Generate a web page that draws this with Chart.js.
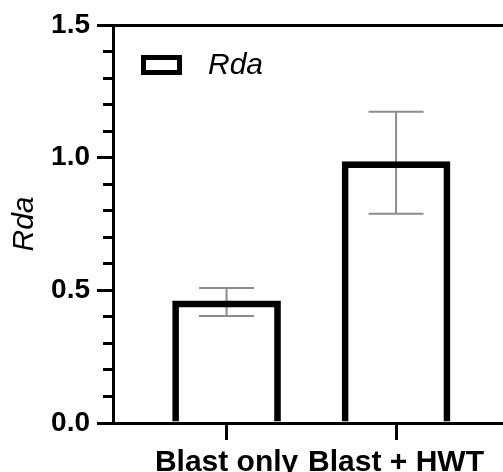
<!DOCTYPE html>
<html>
<head>
<meta charset="utf-8">
<script src="https://cdn.jsdelivr.net/npm/chart.js@4/dist/chart.umd.min.js"></script>
<style>
  html, body { margin: 0; padding: 0; background: #fff; }
  canvas { display: block; }
</style>
</head>
<body>
<canvas id="rdaChart" width="503" height="472"></canvas>
<script>
// Rda expression, mean with error range
const categories = ['Blast only', 'Blast + HWT'];
const rdaMeans = [0.46, 0.985];
const errLow = [0.403, 0.789];
const errHigh = [0.509, 1.173];
const yMajorTicks = [0, 0.5, 1.0, 1.5];
const yAllTicks = [0, 0.1, 0.2, 0.3, 0.4, 0.5, 0.6, 0.7, 0.8, 0.9, 1.0, 1.1, 1.2, 1.3, 1.4, 1.5];

const FONT = '"Liberation Sans", Arial, Helvetica, sans-serif';

function isMajor(v) {
    return yMajorTicks.some(t => Math.abs(t - v) < 1e-6);
}

// error bars drawn under the bar outlines
const errorBars = {
    id: 'errorBars',
    beforeDatasetsDraw(chart) {
        const { ctx, scales: { x, y } } = chart;
        ctx.save();
        ctx.strokeStyle = '#8c8c8c';
        ctx.lineWidth = 2;
        categories.forEach((c, i) => {
            const px = x.getPixelForValue(i + 1);
            const top = y.getPixelForValue(errHigh[i]);
            const bot = y.getPixelForValue(errLow[i]);
            ctx.beginPath();
            ctx.moveTo(px, top);
            ctx.lineTo(px, bot);
            ctx.moveTo(px - 27.5, top);
            ctx.lineTo(px + 27.5, top);
            ctx.moveTo(px - 27.5, bot);
            ctx.lineTo(px + 27.5, bot);
            ctx.stroke();
        });
        ctx.restore();
    }
};

// legend box + italic label, top left inside the plot
const insideLegend = {
    id: 'insideLegend',
    afterDraw(chart) {
        const { ctx, chartArea } = chart;
        const ds = chart.data.datasets[0];
        const bx = chartArea.left + 30.5;
        const by = chartArea.top + 32.5;
        ctx.save();
        ctx.strokeStyle = ds.borderColor;
        ctx.lineWidth = 5;
        ctx.strokeRect(bx, by, 36, 15);
        ctx.fillStyle = '#000';
        ctx.font = 'italic 30px ' + FONT;
        ctx.textBaseline = 'middle';
        ctx.fillText(ds.label, chartArea.left + 95, by + 8);
        ctx.restore();
    }
};

const ctx = document.getElementById('rdaChart').getContext('2d');
new Chart(ctx, {
    type: 'bar',
    data: {
        datasets: [{
            label: 'Rda',
            data: rdaMeans.map((v, i) => ({ x: i + 1, y: v })),
            backgroundColor: 'rgba(0,0,0,0)',
            borderColor: '#000',
            borderWidth: 6,
            borderSkipped: 'start',
            barThickness: 108
        }]
    },
    options: {
        responsive: false,
        animation: false,
        layout: { padding: { top: 25, left: 0, right: 0, bottom: 0 } },
        plugins: {
            tooltip: { enabled: false },
            legend: { display: false }
        },
        scales: {
            x: {
                type: 'linear',
                offset: false,
                min: 0.33,
                max: 2.631,
                afterBuildTicks: scale => {
                    scale.ticks = categories.map((c, i) => ({ value: i + 1 }));
                },
                afterFit: scale => { scale.height = 49; },
                border: { display: true, color: '#000', width: 3 },
                grid: {
                    offset: false,
                    drawOnChartArea: false,
                    tickLength: 17,
                    tickColor: '#000',
                    tickWidth: 3
                },
                ticks: {
                    autoSkip: false,
                    maxRotation: 0,
                    padding: 5,
                    color: '#000',
                    font: { family: FONT, size: 30, weight: 'bold' },
                    callback: v => categories[v - 1]
                }
            },
            y: {
                min: 0,
                max: 1.5,
                afterBuildTicks: scale => {
                    scale.ticks = yAllTicks.map(v => ({ value: v }));
                },
                afterFit: scale => { scale.width = 113; },
                border: { display: true, color: '#000', width: 3 },
                grid: {
                    drawOnChartArea: true,
                    color: c => (c.tick && Math.abs(c.tick.value - 1.5) < 1e-6) ? '#000' : 'rgba(0,0,0,0)',
                    lineWidth: 3,
                    tickLength: 16,
                    tickColor: '#000',
                    tickWidth: 3,
                    tickBorderDash: c => (c.tick && isMajor(c.tick.value)) ? [] : [0, 6, 10, 100]
                },
                ticks: {
                    autoSkip: false,
                    padding: 7,
                    color: '#000',
                    font: { family: FONT, size: 28, weight: 'bold' },
                    callback: v => isMajor(v) ? v.toFixed(1) : ''
                },
                title: {
                    display: true,
                    text: 'Rda',
                    color: '#000',
                    padding: { top: 7, bottom: 0 },
                    font: { family: FONT, size: 30, style: 'italic' }
                }
            }
        }
    },
    plugins: [errorBars, insideLegend]
});
</script>
</body>
</html>
